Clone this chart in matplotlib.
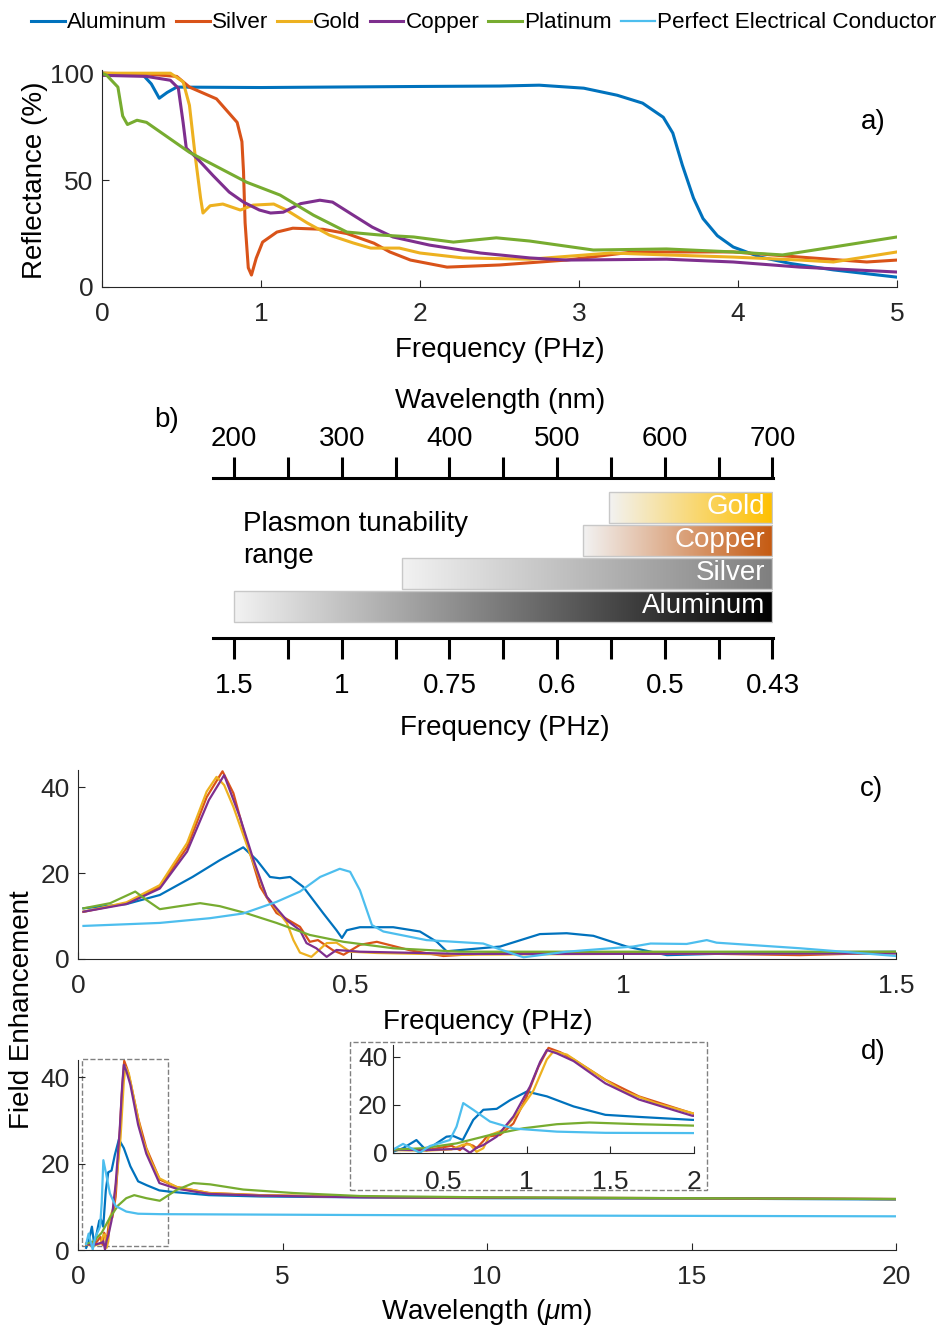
import numpy as np
import matplotlib
matplotlib.use("Agg")
import matplotlib.pyplot as plt
from matplotlib.patches import Rectangle
from matplotlib.colors import LinearSegmentedColormap

plt.rcParams['font.family'] = ['Liberation Sans', 'DejaVu Sans']
plt.rcParams['mathtext.fontset'] = 'custom'
plt.rcParams['mathtext.it'] = 'Liberation Sans:italic'
plt.rcParams['mathtext.rm'] = 'Liberation Sans'

# ---- data ----
names = ["Aluminum", "Silver", "Gold", "Copper", "Platinum", "Perfect Electrical Conductor"]
colors = ["#0072BD", "#D95319", "#EDB120", "#7E2F8E", "#77AC30", "#4DBEEE"]

# a) reflectance vs frequency (PHz)
al_a_f = [0, 0.26, 0.31, 0.36, 0.41, 0.47, 1.0, 2.0, 2.5, 2.75, 3.03, 3.24, 3.40, 3.53, 3.59, 3.65, 3.72, 3.78, 3.87, 3.97, 4.14, 4.33, 4.6, 5.0]
al_a_r = [100, 99, 95, 88.3, 91, 93.5, 93.3, 93.8, 94, 94.4, 93, 89.7, 86, 79.4, 72, 57, 41.6, 32, 24, 18.7, 14, 11, 8, 4.6]
ag_a_f = [0, 0.3, 0.47, 0.55, 0.72, 0.85, 0.88, 0.89, 0.90, 0.92, 0.94, 0.97, 1.01, 1.10, 1.20, 1.39, 1.54, 1.71, 1.81, 1.94, 2.17, 2.5, 2.92, 3.34, 3.97, 4.39, 4.81, 5.0]
ag_a_r = [100, 99.5, 98.5, 93.5, 88, 77, 68, 54, 30, 9, 5.6, 13.5, 21, 25.7, 27.5, 27, 25, 20.5, 16.4, 12.6, 9.3, 10.3, 12.6, 16.4, 16.4, 14, 11.7, 12.6]
au_a_f = [0, 0.43, 0.51, 0.55, 0.585, 0.62, 0.635, 0.68, 0.76, 0.87, 0.95, 1.08, 1.16, 1.29, 1.43, 1.58, 1.69, 1.87, 2.0, 2.27, 2.69, 3.2, 3.55, 3.97, 4.39, 4.6, 5.0]
au_a_r = [100, 100, 96, 85, 62, 41.6, 34.6, 38, 38.8, 36, 38.3, 38.8, 36, 30, 24.3, 20.6, 18.2, 18.2, 15.9, 13.6, 13, 15.9, 15, 14, 12.6, 11.7, 16.4]
cu_a_f = [0, 0.28, 0.43, 0.48, 0.51, 0.53, 0.6, 0.70, 0.80, 0.89, 0.99, 1.06, 1.14, 1.25, 1.37, 1.45, 1.58, 1.70, 1.83, 2.06, 2.38, 2.69, 2.92, 3.55, 3.97, 4.39, 5.0]
cu_a_r = [99, 98.5, 96.7, 93, 77, 65, 60, 52, 44.4, 39.7, 36, 34.6, 35, 39, 40.6, 39.7, 33.6, 28, 23.4, 19.6, 15.9, 13.6, 12.6, 13, 11.7, 9.3, 7]
pt_a_f = [0, 0.03, 0.10, 0.13, 0.16, 0.22, 0.28, 0.55, 0.91, 1.12, 1.33, 1.54, 1.75, 1.96, 2.21, 2.48, 2.69, 3.09, 3.55, 3.97, 4.28, 4.6, 5.0]
pt_a_r = [100, 99, 93.5, 80, 76, 78, 77, 63, 49, 43, 33.6, 25.7, 24.3, 23.4, 21, 23, 21.5, 17.3, 17.8, 16.4, 15, 18.7, 23.4]

# b) plasmon tunability ranges (nm)
bar_names = ["Aluminum", "Silver", "Copper", "Gold"]
bar_start = [200, 356, 524, 548]
bar_end = [700, 700, 700, 700]
bar_colors = ["#000000", "#7F7F7F", "#C55A11", "#FFC000"]
wl_ticks = [200, 250, 300, 350, 400, 450, 500, 550, 600, 650, 700]
wl_labels = ["200", "", "300", "", "400", "", "500", "", "600", "", "700"]
fr_labels = ["1.5", "", "1", "", "0.75", "", "0.6", "", "0.5", "", "0.43"]

# c) field enhancement vs frequency (PHz)
al_c_f = [0.01, 0.089, 0.15, 0.21, 0.26, 0.303, 0.328, 0.352, 0.37, 0.389, 0.413, 0.45, 0.474, 0.484, 0.493, 0.517, 0.578, 0.627, 0.658, 0.676, 0.774, 0.847, 0.896, 0.945, 1.006, 1.08, 1.14, 1.263, 1.5]
al_c_e = [11.8, 12.8, 14.9, 19.1, 23, 26, 23, 19.1, 18.8, 19.1, 16.8, 10.6, 6.7, 4.9, 6.7, 7.4, 7.4, 6.4, 4, 1.8, 2.9, 5.8, 6, 5.4, 2.9, 0.9, 1.1, 1.5, 1.7]
ag_c_f = [0.01, 0.089, 0.15, 0.2, 0.236, 0.265, 0.285, 0.31, 0.334, 0.364, 0.407, 0.425, 0.44, 0.468, 0.487, 0.517, 0.548, 0.61, 0.67, 0.774, 1.018, 1.324, 1.5]
ag_c_e = [11, 13, 16.8, 26, 37.7, 43.7, 38.6, 27, 16.8, 10.7, 7.5, 4, 4.4, 2, 1, 3.3, 4, 2, 0.7, 1.5, 1.5, 0.9, 1.5]
au_c_f = [0.01, 0.089, 0.15, 0.2, 0.236, 0.254, 0.268, 0.285, 0.315, 0.346, 0.383, 0.395, 0.407, 0.428, 0.456, 0.474, 0.499, 0.548, 0.7, 1.0, 1.5]
au_c_e = [11, 13.2, 17.2, 27, 39, 42.4, 40.5, 35.4, 24.6, 14.5, 8.4, 4.4, 1.5, 0.5, 3.7, 3.8, 1.7, 1.4, 1.0, 1.2, 1.3]
cu_c_f = [0.01, 0.089, 0.15, 0.2, 0.24, 0.268, 0.297, 0.322, 0.346, 0.383, 0.407, 0.419, 0.437, 0.456, 0.474, 0.517, 0.7, 1.0, 1.5]
cu_c_e = [11, 12.8, 16.4, 25, 37, 42.8, 33, 23, 14.5, 9, 6.7, 3.7, 2.5, 0.5, 2.1, 1.7, 1.2, 1.2, 1.3]
pt_c_f = [0.01, 0.059, 0.105, 0.126, 0.15, 0.181, 0.224, 0.26, 0.31, 0.364, 0.425, 0.487, 0.578, 0.7, 1.0, 1.5]
pt_c_e = [11.8, 13, 15.7, 13.7, 11.6, 12.2, 13, 12.3, 10.6, 8.4, 5.6, 4, 2.5, 1.7, 1.7, 1.7]
pec_c_f = [0.01, 0.15, 0.242, 0.303, 0.364, 0.407, 0.444, 0.48, 0.499, 0.517, 0.539, 0.56, 0.639, 0.743, 0.768, 0.817, 0.896, 1.018, 1.05, 1.116, 1.153, 1.171, 1.324, 1.5]
pec_c_e = [7.7, 8.4, 9.5, 10.6, 13.3, 15.7, 19.1, 21, 20.3, 16, 7.9, 6.4, 4.4, 3.6, 2.5, 0.4, 1.7, 2.9, 3.6, 3.5, 4.4, 3.8, 2.5, 0.7]

# d) field enhancement vs wavelength (um)
al_d_w = [0.2, 0.26, 0.34, 0.40, 0.46, 0.52, 0.56, 0.617, 0.68, 0.74, 0.82, 0.9, 1.0, 1.12, 1.28, 1.47, 1.68, 1.99, 2.25, 3.2, 4.45, 6.9, 10, 15, 20]
al_d_e = [0.5, 2, 5.4, 1, 4, 6.8, 7.1, 5.4, 13.8, 18, 18.4, 22, 25.6, 23.6, 19.4, 15.9, 15.0, 13.8, 13.5, 12.7, 12.4, 12.2, 12.0, 11.9, 11.7]
ag_d_w = [0.2, 0.4, 0.55, 0.6, 0.64, 0.68, 0.70, 0.74, 0.76, 0.84, 0.92, 1.0, 1.07, 1.13, 1.2, 1.28, 1.47, 1.67, 2.0, 2.41, 3.2, 4.45, 6.9, 10, 15, 20]
ag_d_e = [1.5, 1.2, 3, 1.2, 4, 3, 2, 5, 6.8, 7.5, 12.3, 23.6, 36, 43.8, 42, 39, 30.5, 23.6, 16.3, 14.6, 13.2, 12.7, 12.3, 12.1, 12.0, 11.8]
au_d_w = [0.2, 0.4, 0.55, 0.62, 0.66, 0.70, 0.74, 0.78, 0.86, 0.96, 1.04, 1.12, 1.16, 1.24, 1.375, 1.57, 1.77, 1.99, 2.41, 3.2, 4.45, 6.9, 10, 15, 20]
au_d_e = [1.2, 1.0, 1.5, 3.5, 3.6, 0.5, 2, 7.5, 9.6, 18, 26, 39, 42.4, 41, 34.7, 26, 20.8, 16.6, 14.6, 13.2, 12.7, 12.3, 12.1, 12.0, 11.8]
cu_d_w = [0.2, 0.4, 0.58, 0.62, 0.66, 0.7, 0.74, 0.82, 0.92, 1.02, 1.08, 1.12, 1.18, 1.28, 1.47, 1.67, 1.99, 2.41, 3.2, 4.45, 6.9, 10, 15, 20]
cu_d_e = [1.3, 1.2, 1.7, 2, 0.1, 2.2, 3.3, 6.8, 15.2, 27.8, 38, 42.9, 41.5, 38.3, 29, 22.3, 15.5, 14.2, 13, 12.6, 12.2, 12.1, 12.0, 11.8]
pt_d_w = [0.2, 0.38, 0.58, 0.78, 0.98, 1.18, 1.375, 1.67, 2.0, 2.41, 2.82, 3.23, 4.04, 5.26, 6.9, 10, 15, 20]
pt_d_e = [1.4, 2, 4, 7.5, 10.3, 12, 12.7, 12, 11.4, 13.9, 15.5, 15.2, 14, 13.2, 12.5, 12.2, 12.0, 11.8]
pec_d_w = [0.2, 0.26, 0.36, 0.42, 0.54, 0.58, 0.62, 0.68, 0.78, 0.92, 1.18, 1.47, 2.0, 4.45, 6.9, 10, 15, 20]
pec_d_e = [1.4, 3.8, 0.1, 2.9, 5.4, 11, 20.8, 18, 13.1, 10.2, 8.9, 8.4, 8.3, 8.2, 8.1, 8.0, 7.9, 7.8]

W, H = 947, 1329


def box(l, t, r, b):
    return [l / W, 1 - b / H, (r - l) / W, (b - t) / H]


def style(ax, fs=19, xpad=11):
    for s in ["top", "right"]:
        ax.spines[s].set_visible(False)
    for s in ["left", "bottom"]:
        ax.spines[s].set_color("0.15")
        ax.spines[s].set_linewidth(0.8)
    ax.tick_params(direction="in", length=5, width=0.8, colors="0.15",
                   labelsize=fs, labelcolor="0.15", pad=6)
    ax.tick_params(axis="x", pad=xpad)


fig = plt.figure(figsize=(W / 100, H / 100), dpi=100)

# ---- a) ----
ax_a = fig.add_axes(box(102, 70, 897, 287))
a_series = [(al_a_f, al_a_r), (ag_a_f, ag_a_r), (au_a_f, au_a_r), (cu_a_f, cu_a_r), (pt_a_f, pt_a_r)]
handles = []
for (x, y), c in zip(a_series, colors):
    h, = ax_a.plot(x, y, color=c, lw=2.2)
    handles.append(h)
ax_a.set_xlim(0, 5)
ax_a.set_ylim(0, 101.5)
ax_a.set_xticks([0, 1, 2, 3, 4, 5])
ax_a.set_yticks([0, 50, 100])
style(ax_a)
fig.text(500 / W, 1 - 350 / H, "Frequency (PHz)", ha="center", va="center", fontsize=20)
fig.text(35 / W, 1 - 180 / H, "Reflectance (%)", ha="center", va="center", rotation=90, fontsize=20)
fig.text(873 / W, 1 - 122 / H, "a)", ha="center", va="center", fontsize=20)

# ---- b) ----
ax_b = fig.add_axes(box(213, 478, 773, 638))
for i, (nm, s, e, c) in enumerate(zip(bar_names, bar_start, bar_end, bar_colors)):
    cmap = LinearSegmentedColormap.from_list("g%d" % i, ["#F2F2F2", c])
    grad = np.linspace(0, 1, 256)[None, :]
    ax_b.imshow(grad, extent=[s, e, i + 0.5, i + 1.43], aspect="auto", cmap=cmap, zorder=2)
    ax_b.add_patch(Rectangle((s, i + 0.5), e - s, 0.93, fill=False, ec="#C8C8C8", lw=1, zorder=3))
    ax_b.text(e - 6.5, i + 0.965, nm, ha="right", va="center", color="white", fontsize=20, zorder=4)
ax_b.set_xlim(180.5, 700.5)
ax_b.set_ylim(0, 4.85)
ax_b.set_facecolor("none")
for s in ["top", "left", "right"]:
    ax_b.spines[s].set_visible(False)
ax_b.spines["bottom"].set_linewidth(2.2)
ax_b.set_yticks([])
ax_b.set_xticks(wl_ticks, fr_labels)
ax_b.tick_params(axis="x", direction="out", length=15, width=2.2, labelsize=20, pad=10)
sec = ax_b.secondary_xaxis("top")
sec.spines["top"].set_linewidth(2.2)
sec.set_xticks(wl_ticks, wl_labels)
sec.tick_params(axis="x", direction="out", length=15, width=2.2, labelsize=20, pad=4)
fig.text(500 / W, 1 - 401 / H, "Wavelength (nm)", ha="center", va="center", fontsize=20)
fig.text(505 / W, 1 - 728 / H, "Frequency (PHz)", ha="center", va="center", fontsize=20)
fig.text(167 / W, 1 - 420 / H, "b)", ha="center", va="center", fontsize=20)
fig.text(243 / W, 1 - 540 / H, "Plasmon tunability\nrange", ha="left", va="center",
         fontsize=20, linespacing=1.3)

# ---- c) ----
ax_c = fig.add_axes(box(78, 770, 896, 959))
c_series = [(al_c_f, al_c_e), (ag_c_f, ag_c_e), (au_c_f, au_c_e), (cu_c_f, cu_c_e), (pt_c_f, pt_c_e), (pec_c_f, pec_c_e)]
for (x, y), c in zip(c_series, colors):
    h, = ax_c.plot(x, y, color=c, lw=1.6)
handles.append(h)
ax_c.set_xlim(0, 1.5)
ax_c.set_ylim(0, 44)
ax_c.set_xticks([0, 0.5, 1, 1.5], ["0", "0.5", "1", "1.5"])
ax_c.set_yticks([0, 20, 40])
style(ax_c)
fig.text(488 / W, 1 - 1022 / H, "Frequency (PHz)", ha="center", va="center", fontsize=20)
fig.text(871 / W, 1 - 789 / H, "c)", ha="center", va="center", fontsize=20)
fig.text(22 / W, 1 - 1010 / H, "Field Enhancement", ha="center", va="center", rotation=90, fontsize=20)

# ---- d) ----
ax_d = fig.add_axes(box(78, 1060, 896, 1250))
d_series = [(al_d_w, al_d_e), (ag_d_w, ag_d_e), (au_d_w, au_d_e), (cu_d_w, cu_d_e), (pt_d_w, pt_d_e), (pec_d_w, pec_d_e)]
for (x, y), c in zip(d_series, colors):
    ax_d.plot(x, y, color=c, lw=1.6)
ax_d.add_patch(Rectangle((0.1, 0.9), 2.1, 43.4, fill=False, ec="0.5", ls="--", lw=1, clip_on=False))
ax_d.set_xlim(0, 20)
ax_d.set_ylim(0, 44)
ax_d.set_xticks([0, 5, 10, 15, 20])
ax_d.set_yticks([0, 20, 40])
style(ax_d)
fig.text(487 / W, 1 - 1312 / H, "Wavelength ($\\mu$m)", ha="center", va="center", fontsize=20)
fig.text(873 / W, 1 - 1052 / H, "d)", ha="center", va="center", fontsize=20)

# inset
fig.patches.append(Rectangle((350 / W, 1 - 1190 / H), 357 / W, 148 / H, fill=False, ec="0.5",
                             ls="--", lw=1, transform=fig.transFigure, figure=fig))
ax_i = fig.add_axes(box(393, 1045, 694, 1153))
for (x, y), c in zip(d_series, colors):
    ax_i.plot(x, y, color=c, lw=1.6)
ax_i.set_xlim(0.2, 2)
ax_i.set_ylim(0, 45)
ax_i.set_xticks([0.5, 1, 1.5, 2], ["0.5", "1", "1.5", "2"])
ax_i.set_yticks([0, 20, 40])
ax_i.set_facecolor("none")
style(ax_i, xpad=12)
ax_i.tick_params(axis="y", pad=4)

fig.legend(handles, names, loc="upper center", bbox_to_anchor=(0.5106, 1.0), ncol=6, frameon=False,
           fontsize=16.2, handlelength=1.5, handletextpad=0.1, columnspacing=0.4, borderaxespad=0.15)

fig.savefig("out.png", dpi=100)
